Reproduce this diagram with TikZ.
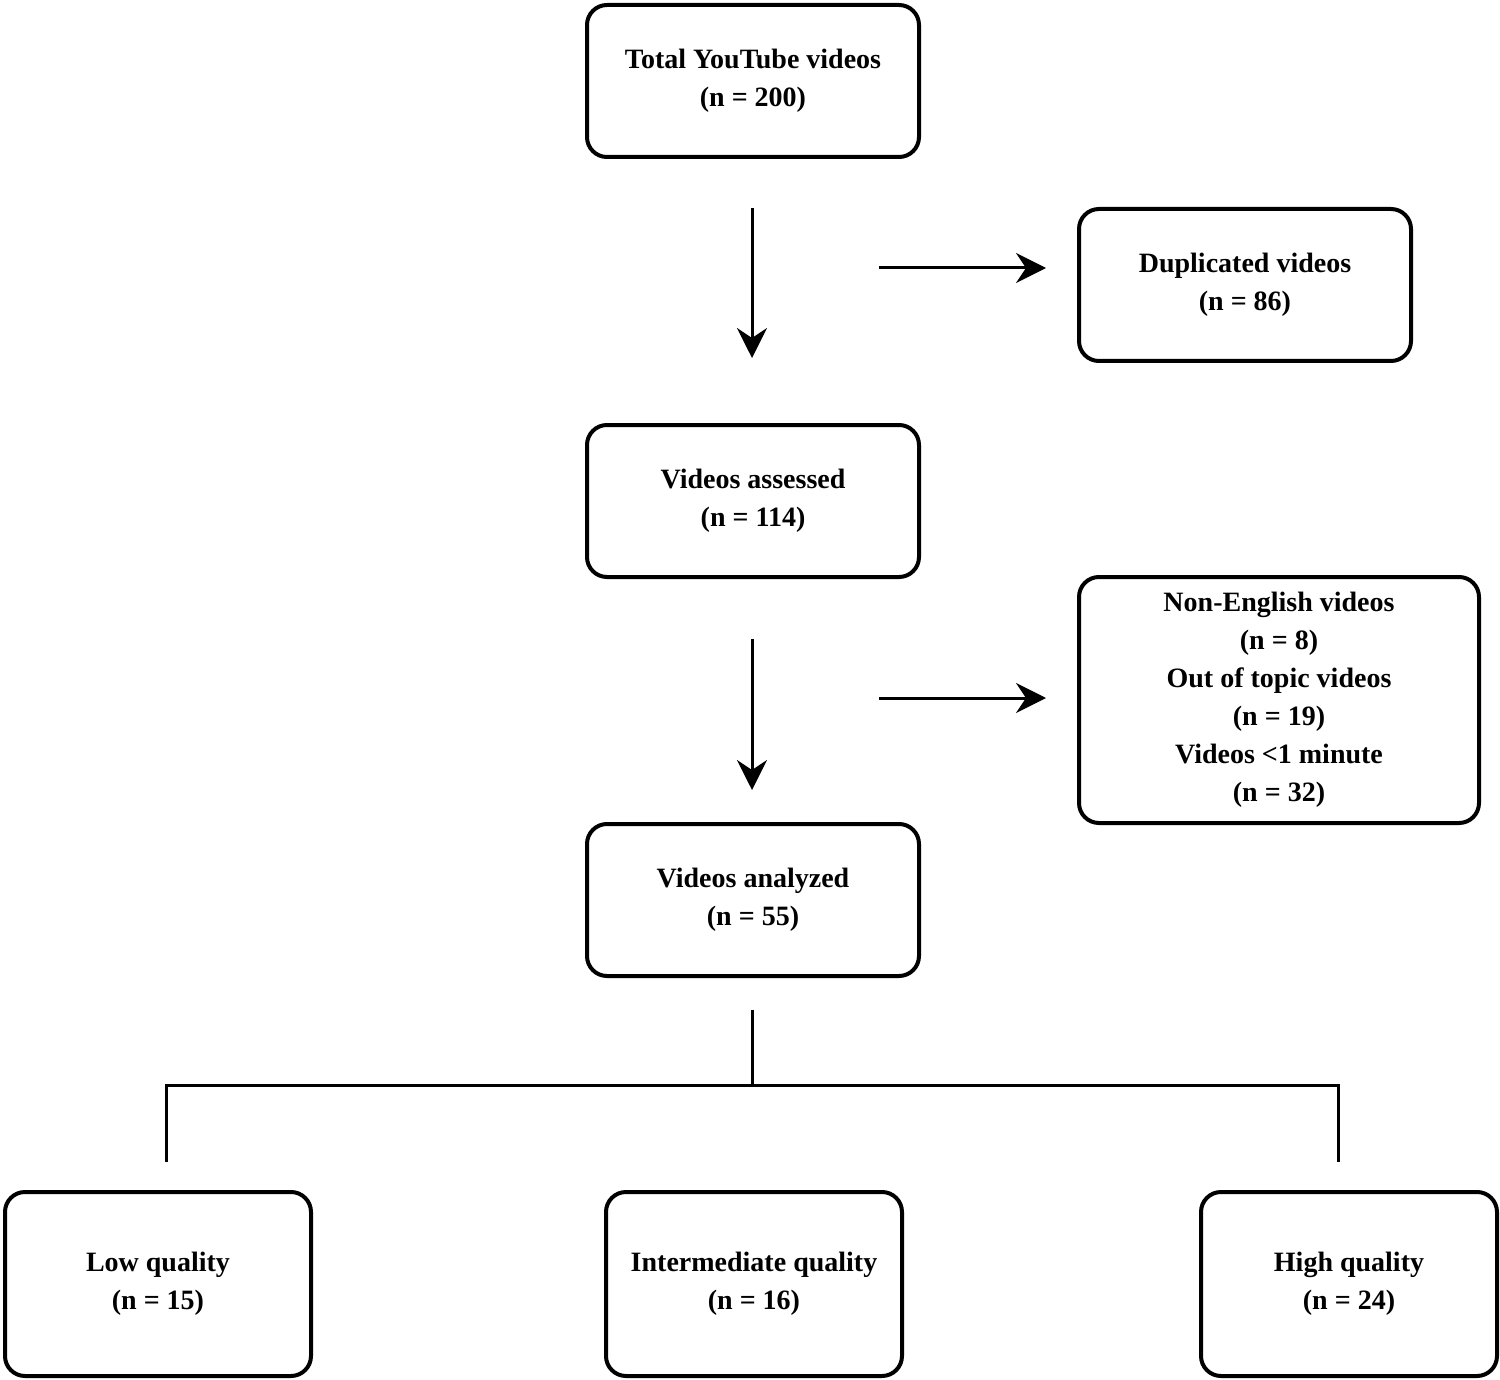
\documentclass[tikz,border=0pt]{standalone}
\usepackage{fontspec}
\setmainfont{Liberation Serif}
\usetikzlibrary{arrows.meta}

\begin{document}
\begin{tikzpicture}[x=0.5pt,y=-0.5pt,
	box/.style={draw, line width=2pt, rounded corners=10pt, align=center,
		font=\bfseries\fontsize{14}{19}\selectfont, inner sep=0pt},
	arr/.style={line width=1.5pt, -{Stealth[length=15pt,width=15pt,inset=5pt]}},
	line/.style={line width=1.5pt}]
	\useasboundingbox (0,0) rectangle (1500,1380);
	
	\node[box, minimum width=166pt, minimum height=76pt] (total) at (753,81) {Total YouTube videos\\(n = 200)};
	\node[box, minimum width=166pt, minimum height=76pt] (dup) at (1245,285) {Duplicated videos\\(n = 86)};
	\node[box, minimum width=166pt, minimum height=76pt] (assessed) at (753,501) {Videos assessed\\(n = 114)};
	\node[box, minimum width=200pt, minimum height=123pt] (excl) at (1279,700) {Non-English videos\\(n = 8)\\Out of topic videos\\(n = 19)\\Videos <1 minute\\(n = 32)};
	\node[box, minimum width=166pt, minimum height=76pt] (analyzed) at (753,900) {Videos analyzed\\(n = 55)};
	\node[box, minimum width=153pt, minimum height=92pt] (low) at (158,1284) {Low quality\\(n = 15)};
	\node[box, minimum width=148pt, minimum height=92pt] (inter) at (754,1284) {Intermediate quality\\(n = 16)};
	\node[box, minimum width=148pt, minimum height=92pt] (high) at (1349,1284) {High quality\\(n = 24)};
	
	% first step
	\coordinate (d1a) at (752,208);
	\coordinate (d1b) at (752,358);
	\coordinate (r1a) at (879,268);
	\coordinate (r1b) at (1046,268);
	\draw[arr] (d1a) -- (d1b);
	\draw[arr] (r1a) -- (r1b);
	
	% second step
	\coordinate (d2a) at (752,639);
	\coordinate (d2b) at (752,790);
	\coordinate (r2a) at (879,698);
	\coordinate (r2b) at (1046,698);
	\draw[arr] (d2a) -- (d2b);
	\draw[arr] (r2a) -- (r2b);
	
	% split
	\coordinate (s0) at (752,1010);
	\coordinate (s1) at (752,1085);
	\coordinate (sl) at (166,1085);
	\coordinate (sr) at (1338,1085);
	\coordinate (el) at (166,1162);
	\coordinate (er) at (1338,1162);
	\draw[line] (s0) -- (s1);
	\draw[line] (el) -- (sl) -- (sr) -- (er);
\end{tikzpicture}
\end{document}
